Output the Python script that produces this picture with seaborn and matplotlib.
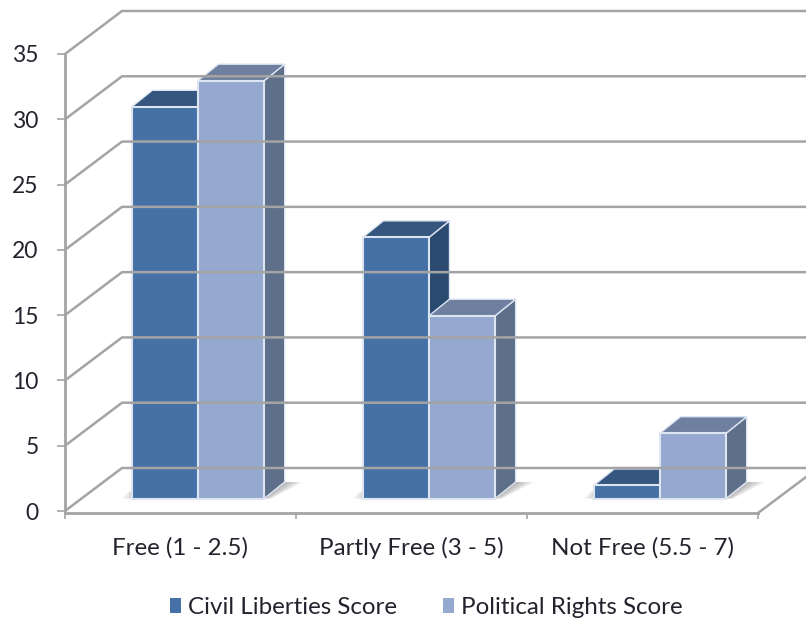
import matplotlib
matplotlib.use("Agg")
import matplotlib.pyplot as plt
from matplotlib.patches import Patch, Polygon
from matplotlib.transforms import Affine2D
import pandas as pd
import seaborn as sns

categories = ["Free (1 - 2.5)", "Partly Free (3 - 5)", "Not Free (5.5 - 7)"]
civil_liberties = [30, 20, 1]
political_rights = [32, 14, 5]
series_names = ["Civil Liberties Score", "Political Rights Score"]
y_ticks = [0, 5, 10, 15, 20, 25, 30, 35]

FRONT = ["#4571A6", "#95A8D0"]
TOP = ["#34567F", "#6E7FA0"]
SIDE = ["#2B4A70", "#5E6F8A"]
EDGE = "#DDE5F1"
GRID = "#A4A4A4"
TEXT = "#23232E"

W, H = 806, 621
sns.set_theme(style="white")
plt.rcParams["font.family"] = ["Lato", "DejaVu Sans"]

fig = plt.figure(figsize=(W / 100, H / 100), dpi=100)
ax = fig.add_axes([65 / W, 1 - 511 / H, (758 - 65) / W, (511 - 54) / H])
ax.patch.set_alpha(0)

df = pd.DataFrame({
    "category": categories * 2,
    "score": civil_liberties + political_rights,
    "series": [series_names[0]] * 3 + [series_names[1]] * 3,
})
sns.barplot(data=df, x="category", y="score", hue="series", hue_order=series_names,
            palette=FRONT, saturation=1, width=0.573, gap=0, edgecolor=EDGE, linewidth=1.5,
            legend=False, ax=ax)
ax.set_xlim(-0.5, 2.5)
ax.set_ylim(0, 35)
ax.set_xlabel("")
ax.set_ylabel("")

# Perspective offsets, in pixels: wall depth, bar placement on the floor, bar depth
WALL_DX, WALL_DY = 57, 43
BAR_DX, BAR_DY = 17.5, 12.5
DEPTH_DX, DEPTH_DY = 20.5, 16.5


def to_px(x, y):
    return ax.transData.transform((x, y))


screen = Affine2D()
# Back wall and gridlines, projected from the value axis
for v in y_ticks:
    x0, y0 = to_px(-0.5, v)
    fig.add_artist(plt.Line2D([x0, x0 + WALL_DX, W], [y0, y0 + WALL_DY, y0 + WALL_DY],
                              transform=screen, color=GRID, lw=1.8, zorder=0.5))

# Right edge of the floor
x1, y1 = to_px(2.5, 0)
fig.add_artist(plt.Line2D([x1, x1 + 48], [y1 - 2, y1 + 34], transform=screen,
                          color=GRID, lw=1.8, zorder=0.5))

shift = Affine2D().translate(BAR_DX, BAR_DY)
bars = list(ax.patches)
n_cat = len(categories)
for i, bar in enumerate(bars):
    s = i // n_cat
    (xl, yb), (xr, yt) = to_px(bar.get_x(), 0), to_px(bar.get_x() + bar.get_width(), bar.get_height())
    xl, xr, yb, yt = xl + BAR_DX, xr + BAR_DX, yb + BAR_DY, yt + BAR_DY
    base_z = 3 + (i % n_cat) * 2 + s * 0.5

    # Soft floor shadow, built from stacked translucent wedges
    if s == 1:
        for k in range(1, 6):
            e = k * 3.6
            ax.add_patch(Polygon([(xr, yb), (xr + DEPTH_DX, yb + DEPTH_DY),
                                  (xr + DEPTH_DX + e, yb + DEPTH_DY), (xr + e * 0.4, yb)],
                                 transform=screen, facecolor="#777777", alpha=0.13,
                                 edgecolor="none", zorder=1, clip_on=False))
    else:
        for k in range(1, 4):
            e = k * 3.2
            ax.add_patch(Polygon([(xl, yb), (xl - e, yb), (xl - e * 0.3, yb + 7), (xl, yb + 7)],
                                 transform=screen, facecolor="#777777", alpha=0.10,
                                 edgecolor="none", zorder=1, clip_on=False))

    ax.add_patch(Polygon([(xr, yb), (xr + DEPTH_DX, yb + DEPTH_DY),
                          (xr + DEPTH_DX, yt + DEPTH_DY), (xr, yt)],
                         transform=screen, facecolor=SIDE[s], edgecolor=EDGE, lw=1.0,
                         zorder=base_z, clip_on=False))
    ax.add_patch(Polygon([(xl, yt), (xl + DEPTH_DX, yt + DEPTH_DY),
                          (xr + DEPTH_DX, yt + DEPTH_DY), (xr, yt)],
                         transform=screen, facecolor=TOP[s], edgecolor=EDGE, lw=1.0,
                         zorder=base_z, clip_on=False))
    bar.set_transform(ax.transData + shift)
    bar.set_clip_on(False)
    bar.set_zorder(base_z + 0.2)

for side in ("top", "right"):
    ax.spines[side].set_visible(False)
ax.spines["left"].set_color(GRID)
ax.spines["left"].set_linewidth(2.0)
ax.spines["left"].set_bounds(0, 35)
ax.spines["bottom"].set_color(GRID)
ax.spines["bottom"].set_linewidth(2.0)
ax.spines["bottom"].set_position(("outward", 1.5))

ax.set_yticks(y_ticks)
ax.tick_params(axis="y", length=6, width=1.2, color=GRID, pad=13, labelsize=16.5,
               labelcolor=TEXT, left=True)
ax.set_xticks(range(n_cat))
ax.set_xticklabels(categories)
ax.set_xticks([-0.5, 0.5, 1.5, 2.5], minor=True)
ax.tick_params(axis="x", which="major", length=0, pad=17.5, labelsize=17.4, labelcolor=TEXT)
ax.tick_params(axis="x", which="minor", length=4.5, width=1.2, color=GRID, bottom=True)

handles = [Patch(facecolor=c, edgecolor="none") for c in FRONT]
fig.legend(handles, series_names, loc="center", bbox_to_anchor=(426.5 / W, 1 - 607.5 / H),
           ncol=2, frameon=False, fontsize=17.4, labelcolor=TEXT,
           handlelength=0.45, handleheight=0.55, handletextpad=0.3, columnspacing=1.9)

fig.savefig("out.png", dpi=100, facecolor="white")
